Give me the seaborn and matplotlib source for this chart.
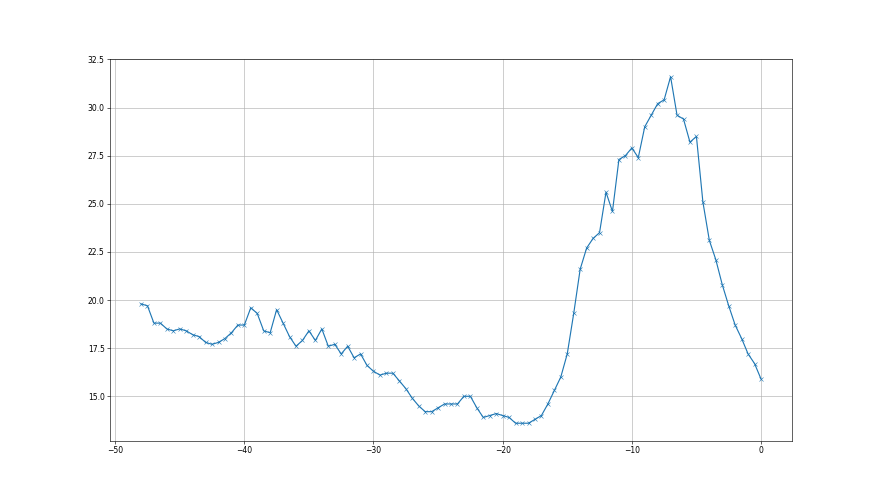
import numpy as np
import pandas as pd
import matplotlib
matplotlib.use("Agg")
import matplotlib.pyplot as plt
import seaborn as sns

# eixo x: de -48 a 0 em passos de 0.5
dias = [-48 + 0.5 * i for i in range(97)]

valores = [
    19.8, 19.7, 18.8, 18.8, 18.5, 18.4, 18.5, 18.4, 18.2, 18.1,
    17.8, 17.7, 17.8, 18.0, 18.3, 18.7, 18.7, 19.6, 19.3, 18.4,
    18.3, 19.5, 18.8, 18.1, 17.6, 17.9, 18.4, 17.9, 18.5, 17.6,
    17.7, 17.2, 17.6, 17.0, 17.2, 16.6, 16.3, 16.1, 16.2, 16.2,
    15.8, 15.4, 14.9, 14.5, 14.2, 14.2, 14.4, 14.6, 14.6, 14.6,
    15.0, 15.0, 14.4, 13.9, 14.0, 14.1, 14.0, 13.9, 13.6, 13.6,
    13.6, 13.8, 14.0, 14.6, 15.3, 16.0, 17.2, 19.3, 21.6, 22.7,
    23.2, 23.5, 25.6, 24.6, 27.3, 27.5, 27.9, 27.4, 29.0, 29.6,
    30.2, 30.4, 31.6, 29.6, 29.4, 28.2, 28.5, 25.1, 23.1, 22.1,
    20.8, 19.7, 18.7, 18.0, 17.2, 16.7, 15.9,
]

df = pd.DataFrame({"x": dias, "y": valores})

fig, ax = plt.subplots(figsize=(16, 9), dpi=55)
sns.lineplot(data=df, x="x", y="y", marker="x", markeredgecolor="#1f77b4",
             color="#1f77b4", linewidth=1.5, markersize=6, ax=ax)
ax.set_xlabel("")
ax.set_ylabel("")
ax.set_ylim(top=32.5)
ax.set_yticks([15.0, 17.5, 20.0, 22.5, 25.0, 27.5, 30.0, 32.5])
ax.yaxis.set_major_formatter(matplotlib.ticker.FormatStrFormatter("%.1f"))
ax.grid(True)

plt.savefig("out.png", dpi=55)
